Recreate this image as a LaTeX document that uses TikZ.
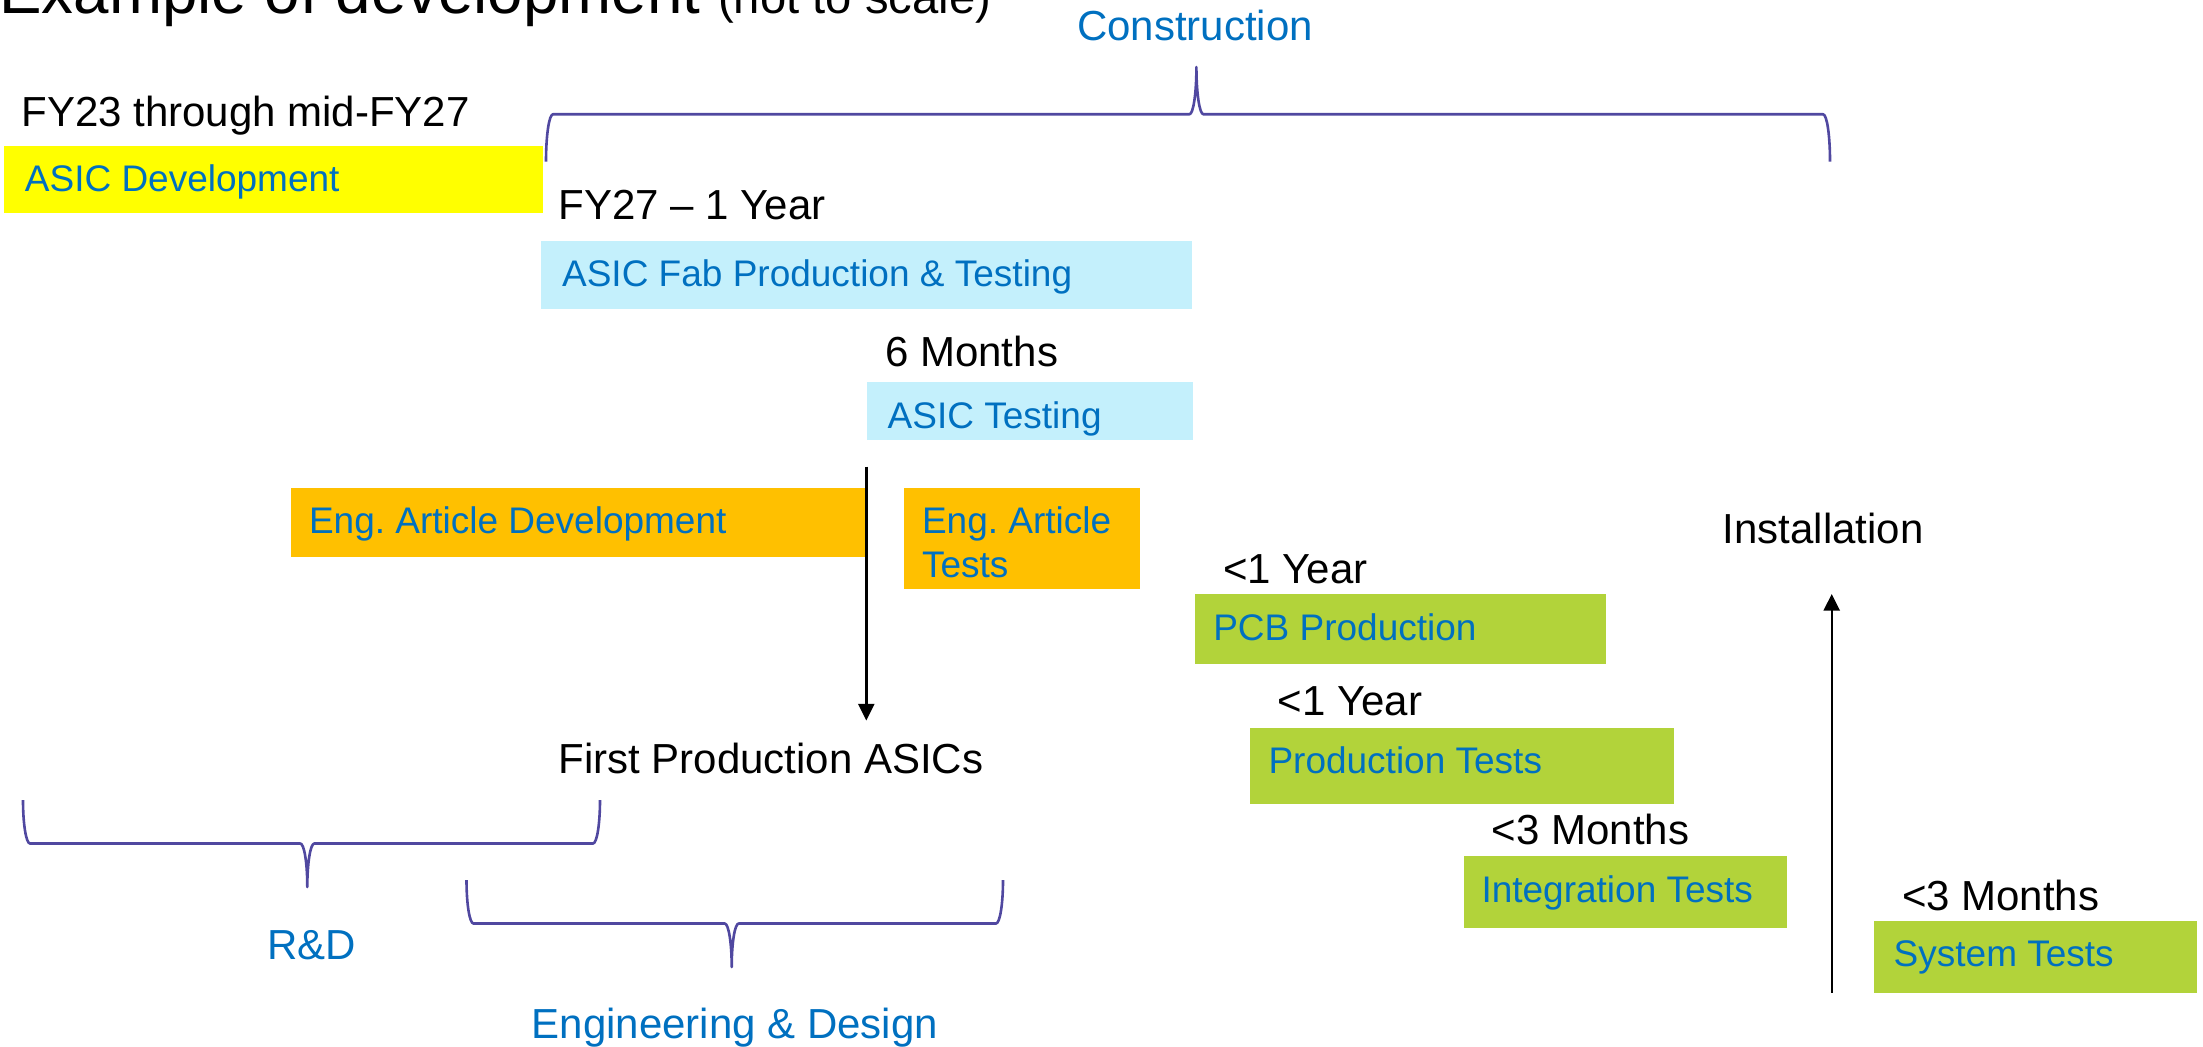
\documentclass[tikz,border=0pt]{standalone}
\usepackage{fontspec}
\setmainfont{Liberation Sans}
\usetikzlibrary{arrows.meta,fit}
\frenchspacing

\definecolor{bartext}{RGB}{0,112,192}
\definecolor{yellowbar}{RGB}{255,255,0}
\definecolor{cyanbar}{RGB}{196,240,252}
\definecolor{amberbar}{RGB}{255,192,0}
\definecolor{limebar}{RGB}{178,211,58}
\definecolor{bracecol}{RGB}{80,72,160}

% curly brace: left x, right x, end y, middle y, tip x, tip y
\newcommand{\curlybrace}[6]{%
  \draw[brace] (#1,#3) .. controls (#1,{#3+0.552*(#4-#3)}) and ({#1+3.1},#4) .. ({#1+7},#4)
    -- ({#5-7},#4) .. controls ({#5-3.1},#4) and (#5,{#6-0.552*(#6-#4)}) .. (#5,#6)
    .. controls (#5,{#6-0.552*(#6-#4)}) and ({#5+3.1},#4) .. ({#5+7},#4)
    -- ({#2-7},#4) .. controls ({#2-3.1},#4) and (#2,{#3+0.552*(#4-#3)}) .. (#2,#3);}

\tikzset{
  bar/.style={inner sep=0pt, outer sep=0pt, draw=none},
  lbl/.style={inner sep=0pt, anchor=base west, text=black, font=\fontsize{21}{25}\selectfont},
  phase/.style={inner sep=0pt, anchor=base, text=bartext, font=\fontsize{21}{25}\selectfont},
  tag/.style={inner sep=0pt, anchor=base west, text=bartext, font=\fontsize{18.5}{22}\selectfont},
  brace/.style={draw=bracecol, line width=1.3pt, line join=round},
  flow/.style={-{Triangle[length=8.3pt,width=8pt]}, line width=1.2pt, draw=black}
}

\begin{document}
\begin{tikzpicture}[x=0.5pt, y=-0.5pt]
\useasboundingbox (0,0) rectangle (2203,1046);
\clip (0,0) rectangle (2203,1046);

% bars
\node[bar, fill=yellowbar, fit={(3.5,146) (543,213)}] (asicdev) {};
\node[bar, fill=cyanbar, fit={(541,241) (1192,308.7)}] (fab) {};
\node[bar, fill=cyanbar, fit={(867,381.7) (1193,439.7)}] (asictest) {};
\node[bar, fill=amberbar, fit={(290.8,488) (866.3,556.7)}] (eadev) {};
\node[bar, fill=amberbar, fit={(903.8,488) (1140.3,588.7)}] (eatest) {};
\node[bar, fill=limebar, fit={(1195,594) (1606,663.7)}] (pcb) {};
\node[bar, fill=limebar, fit={(1250,728) (1673.8,803.6)}] (prodtest) {};
\node[bar, fill=limebar, fit={(1464.3,855.9) (1787.3,927.6)}] (integ) {};
\node[bar, fill=limebar, fit={(1874,921) (2197,992.7)}] (systest) {};

% title
\node[inner sep=0pt, anchor=base west] (title) at (-1,13.3)
  {\fontsize{31.85}{38}\selectfont Example of development \fontsize{23.6}{28}\selectfont(not to scale)};

% phase braces and names
\curlybrace{546}{1830}{161.5}{114.25}{1196.4}{67}
\node[phase] (construction) at (1195,40.7) {Construction};
\curlybrace{23}{600}{800}{843.5}{307.3}{887}
\node[phase] (rnd) at (311.5,959) {R\&D};
\curlybrace{466.5}{1003}{880}{923.5}{731.7}{967}
\node[phase] (engdesign) at (735,1038) {Engineering \& Design};

% milestones
\coordinate (asicsdone) at (866.3,466.7);
\coordinate (asicsin) at (866.3,720.5);
\draw[flow] (asicsdone) -- (asicsin);
\coordinate (instfrom) at (1831.7,992.7);
\coordinate (instto) at (1831.7,594);
\draw[flow] (instfrom) -- (instto);

% durations and milestone texts
\node[lbl] (fy23) at (21,126) {FY23 through mid-FY27};
\node[lbl] (fy27) at (558.3,219.3) {FY27 – 1 Year};
\node[lbl] (sixm) at (884.9,366.7) {6 Months};
\node[lbl] (first) at (558,773.3) {First Production ASICs};
\node[lbl] (install) at (1722.4,543.5) {Installation};
\node[lbl] (pcbtime) at (1222.6,583.3) {<1 Year};
\node[lbl] (prodtime) at (1277.2,715.9) {<1 Year};
\node[lbl] (integtime) at (1491.5,844.7) {<3 Months};
\node[lbl] (systime) at (1901.6,910.7) {<3 Months};

% bar captions
\node[tag] at (24.5,191.7) {ASIC Development};
\node[tag] at (561.7,286.7) {ASIC Fab Production \& Testing};
\node[tag] at (887.3,428.7) {ASIC Testing};
\node[tag] at (308.6,533) {Eng. Article Development};
\node[tag] at (921.6,533) {\begin{tabular}[t]{@{}l@{}}Eng. Article\\Tests\end{tabular}};
\node[tag] at (1212.9,640) {PCB Production};
\node[tag] at (1268.1,773.3) {Production Tests};
\node[tag] at (1481.1,902.2) {Integration Tests};
\node[tag] at (1893.3,966.7) {System Tests};
\end{tikzpicture}
\end{document}
